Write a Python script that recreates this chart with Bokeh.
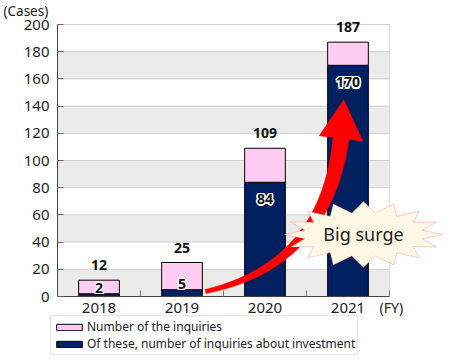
import math
from bokeh.plotting import figure
from bokeh.models import (Range1d, FixedTicker, Legend, LegendItem, Label,
                          PolyAnnotation, ColumnDataSource, LinearAxis)
from bokeh.core.properties import value
from bokeh.embed import file_html
from bokeh.resources import INLINE

# ---- data ----
years = ["2018", "2019", "2020", "2021"]
inquiries = [12, 25, 109, 187]
investment = [2, 5, 84, 170]
y_ticks = [0, 20, 40, 60, 80, 100, 120, 140, 160, 180, 200]

# ---- style / layout ----
FONT = "Noto Sans"
PINK = "#FFCCF3"
NAVY = "#002060"
W, H = 445, 355
AX_LEFT_PX, AX_BOTTOM_PX = 57, 296      # where the axes sit on the canvas
PLOT_W_PX, PLOT_H_PX = 332, 272         # size of the data area
XA, XB = -0.5, len(years) - 0.5         # data extent of the x axis
YA, YB = y_ticks[0], y_ticks[-1]
SX = PLOT_W_PX / (XB - XA)
SY = PLOT_H_PX / (YB - YA)
x_range = Range1d(XA - AX_LEFT_PX / SX, XA + (W - AX_LEFT_PX) / SX)
y_range = Range1d(YA - (H - AX_BOTTOM_PX) / SY, YA + AX_BOTTOM_PX / SY)

p = figure(width=W, height=H, x_range=x_range, y_range=y_range,
           output_backend="svg", toolbar_location=None,
           x_axis_type=None, y_axis_type=None,
           min_border=0, min_border_left=0, min_border_right=0,
           min_border_top=0, min_border_bottom=0)
p.background_fill_color = "white"
p.border_fill_color = "white"
p.outline_line_color = None
p.grid.visible = False

# bands & grid lines (limited to the plotting area)
p.quad(left=XA, right=XB, bottom=y_ticks[0:-1:2], top=y_ticks[1::2],
       fill_color="#EBEBEB", line_color=None)
p.segment(x0=XA, x1=XB, y0=y_ticks[1:], y1=y_ticks[1:], line_color="#D0D0D0",
          line_width=1)
p.segment(x0=XB, x1=XB, y0=YA, y1=YB, line_color="#DDDDDD", line_width=1)

# y axis
yaxis = LinearAxis(ticker=FixedTicker(ticks=y_ticks), fixed_location=XA,
                   bounds=(YA, YB))
yaxis.major_tick_in = 6
yaxis.major_tick_out = 0
yaxis.minor_tick_line_color = None
yaxis.axis_line_color = "#444444"
yaxis.major_tick_line_color = "#666666"
yaxis.major_label_text_font = FONT
yaxis.major_label_text_font_size = "15px"
yaxis.major_label_text_color = "#222222"
yaxis.major_label_standoff = 8
p.add_layout(yaxis, "left")

# x axis
xs_idx = list(range(len(years)))
xaxis = LinearAxis(ticker=FixedTicker(ticks=xs_idx,
                                      minor_ticks=[i + 0.5 for i in xs_idx]),
                   fixed_location=YA, bounds=(XA, XB))
xaxis.major_label_overrides = {i: y for i, y in zip(xs_idx, years)}
xaxis.major_tick_line_color = None
xaxis.minor_tick_in = 6
xaxis.minor_tick_out = 0
xaxis.minor_tick_line_color = "#777777"
xaxis.axis_line_color = "#444444"
xaxis.major_label_text_font = FONT
xaxis.major_label_text_font_size = "15px"
xaxis.major_label_text_color = "#222222"
xaxis.major_label_standoff = 0
p.add_layout(xaxis, "below")

# bars
inner_off = [17 if v * SY > 30 else -6 for v in investment]
src = ColumnDataSource(dict(x=xs_idx, total=inquiries, inv=investment,
                            total_txt=[str(v) for v in inquiries],
                            inv_txt=[str(v) for v in investment],
                            inner_off=inner_off))
r_navy = p.vbar(x="x", width=0.49, bottom=0, top="inv", source=src,
                fill_color=NAVY, line_color="black", line_width=1)
r_pink = p.vbar(x="x", width=0.49, bottom="inv", top="total", source=src,
                fill_color=PINK, line_color="black", line_width=1)

# arrow (curved, tapered)
A_TAIL = (1.283, 3.7)
A_CTRL = (2.729, 22.8)
A_END = (2.916, 116.2)
A_TIP = (2.949, 144.6)
W_TAIL, W_END, HEAD_HALF = 4.0, 16.0, 22.0


def to_px(pt):
    return (pt[0] * SX, pt[1] * SY)


P0, P1, P2 = to_px(A_TAIL), to_px(A_CTRL), to_px(A_END)
left, right = [], []
N = 40
for i in range(N + 1):
    t = i / N
    cx = (1 - t) ** 2 * P0[0] + 2 * (1 - t) * t * P1[0] + t ** 2 * P2[0]
    cy = (1 - t) ** 2 * P0[1] + 2 * (1 - t) * t * P1[1] + t ** 2 * P2[1]
    dx = 2 * (1 - t) * (P1[0] - P0[0]) + 2 * t * (P2[0] - P1[0])
    dy = 2 * (1 - t) * (P1[1] - P0[1]) + 2 * t * (P2[1] - P1[1])
    n = math.hypot(dx, dy)
    nx, ny = -dy / n, dx / n
    w = (W_TAIL + (W_END - W_TAIL) * t) / 2
    left.append((cx + nx * w, cy + ny * w))
    right.append((cx - nx * w, cy - ny * w))
dx = P2[0] - P1[0]
dy = P2[1] - P1[1]
n = math.hypot(dx, dy)
nx, ny = -dy / n, dx / n
hl = (P2[0] + nx * HEAD_HALF, P2[1] + ny * HEAD_HALF)
hr = (P2[0] - nx * HEAD_HALF, P2[1] - ny * HEAD_HALF)
tip = to_px(A_TIP)
poly = left + [hl, tip, hr] + right[::-1]
p.patch(x=[q[0] / SX for q in poly], y=[q[1] / SY for q in poly],
        fill_color="#FF0000", line_color="#FF0000", line_width=0.5)

# value labels
p.text(x="x", y="total", text="total_txt", source=src, text_align="center",
       text_baseline="middle", y_offset=-15, text_font=value(FONT),
       text_font_size="14px", text_font_style="bold", text_color="#111111")
halo = [(-1.5, 0), (1.5, 0), (0, -1.5), (0, 1.5),
        (-1.2, -1.2), (1.2, -1.2), (-1.2, 1.2), (1.2, 1.2)]
for hx, hy in halo:
    hsrc = ColumnDataSource(dict(x=xs_idx, inv=investment,
                                 inv_txt=[str(v) for v in investment],
                                 yo=[o + hy for o in inner_off]))
    p.text(x="x", y="inv", text="inv_txt", source=hsrc, text_align="center",
           text_baseline="middle", x_offset=hx, y_offset="yo",
           text_font=value(FONT), text_font_size="14px",
           text_font_style="bold", text_color="white")
p.text(x="x", y="inv", text="inv_txt", source=src, text_align="center",
       text_baseline="middle", y_offset="inner_off", text_font=value(FONT),
       text_font_size="14px", text_font_style="bold", text_color="#111111")

# starburst callout
S_CX, S_CY = 3.187, 45.6
RO_X, RO_Y, RI_X, RI_Y = 79, 33, 60, 22
NS = 16
sx, sy = [], []
for k in range(2 * NS):
    a = math.pi * k / NS
    rx, ry = (RO_X, RO_Y) if k % 2 == 0 else (RI_X, RI_Y)
    sx.append(S_CX + rx * math.cos(a) / SX)
    sy.append(S_CY + ry * math.sin(a) / SY)
p.add_layout(PolyAnnotation(xs=sx, ys=sy, fill_color="#FFF8E4", fill_alpha=1,
                            line_color="#FF5555", line_width=1))
p.add_layout(Label(x=S_CX, y=S_CY, text="Big surge", text_align="center",
                   text_baseline="middle", text_font=FONT, text_font_size="18px",
                   text_color="#222222"))

# unit labels
p.add_layout(Label(x=XA - 54 / SX, y=YB + 14 / SY, text="(Cases)",
                   text_align="left", text_baseline="middle", text_font=FONT,
                   text_font_size="13.5px", text_color="#222222"))
p.add_layout(Label(x=XB - 10 / SX, y=YA - 11 / SY, text="(FY)",
                   text_align="left", text_baseline="middle", text_font=FONT,
                   text_font_size="14px", text_color="#222222"))

# legend
legend = Legend(items=[LegendItem(label="Number of the inquiries", renderers=[r_pink]),
                       LegendItem(label="Of these, number of inquiries about investment",
                                  renderers=[r_navy])],
                location=(AX_LEFT_PX - 7, 0), orientation="vertical",
                glyph_width=32, glyph_height=8, label_height=12, spacing=-2,
                padding=2, margin=0, label_standoff=2,
                label_text_font=FONT, label_text_font_size="12px",
                label_text_color="#222222", border_line_color="#CCCCCC",
                background_fill_color="white", background_fill_alpha=1)
p.add_layout(legend)

open("out.html", "w").write(file_html(p, INLINE))
